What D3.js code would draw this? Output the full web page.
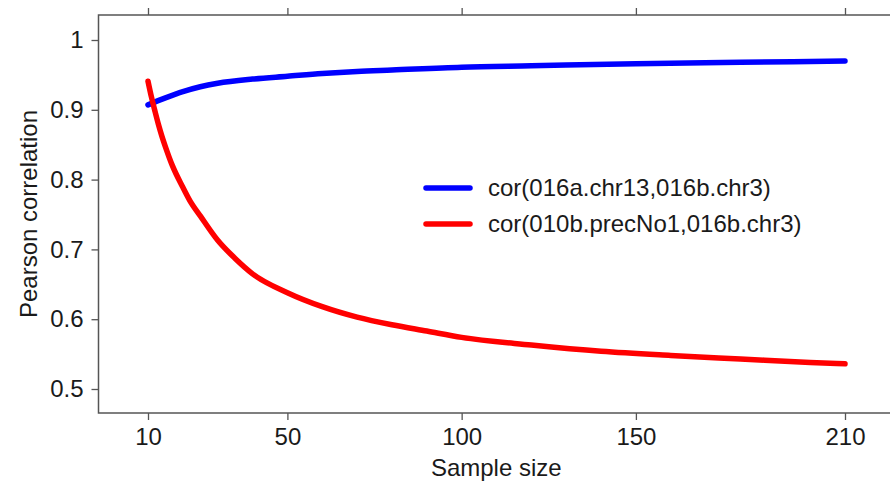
<!DOCTYPE html>
<html>
<head>
<meta charset="utf-8">
<script src="https://cdn.jsdelivr.net/npm/d3@7"></script>
<style>
  html, body { margin: 0; padding: 0; background: #fff; }
  svg { display: block; }
  text { font-family: "Liberation Sans", Arial, sans-serif; fill: #1a1a1a; }
</style>
</head>
<body>
<svg id="chart" width="890" height="482"></svg>
<script>
// ---- data ----
const redSizes  = [10, 11, 12, 13, 14, 15, 17, 20, 22, 25, 30, 35, 40, 50, 60, 70, 80, 90, 100, 120, 140, 160, 180, 200, 210];
const redValues = [0.941, 0.918, 0.898, 0.879, 0.862, 0.847, 0.820, 0.789, 0.770, 0.748, 0.713, 0.687, 0.665, 0.638, 0.618, 0.603, 0.592, 0.583, 0.574, 0.563, 0.554, 0.548, 0.543, 0.538, 0.536];
const blueSizes  = [10, 15, 20, 25, 30, 40, 50, 60, 70, 80, 100, 120, 150, 180, 210];
const blueValues = [0.907, 0.917, 0.926, 0.933, 0.938, 0.944, 0.948, 0.952, 0.955, 0.957, 0.961, 0.963, 0.966, 0.968, 0.970];
const xTicks = [10, 50, 100, 150, 210];
const yTicks = [0.5, 0.6, 0.7, 0.8, 0.9, 1];
const seriesNames = ["cor(016a.chr13,016b.chr3)", "cor(010b.precNo1,016b.chr3)"];
const seriesColors = ["#0000ff", "#ff0000"];

(function () {
// ---- layout ----
const svg = d3.select("#chart");
const pL = 98.5, pR = 894, pT = 15, pB = 413;
const fs = 24;

const x = d3.scaleLinear().domain([10, 210]).range([148, 845]);
const y = d3.scaleLinear().domain([0.5, 1]).range([389, 40]);

const axisColor = "#555";

// frame
svg.append("rect")
  .attr("x", pL).attr("y", pT)
  .attr("width", pR - pL).attr("height", pB - pT)
  .attr("fill", "none").attr("stroke", axisColor).attr("stroke-width", 1.5);

// bottom axis
const gx = svg.append("g").attr("transform", `translate(0,${pB})`)
  .call(d3.axisBottom(x).tickValues(xTicks).tickSize(7).tickPadding(8).tickFormat(d3.format("d")));
gx.select(".domain").remove();
gx.selectAll("line").attr("stroke", axisColor).attr("stroke-width", 1.3);
gx.selectAll("text").attr("font-size", fs).attr("fill", "#1a1a1a")
  .attr("font-family", "'Liberation Sans', Arial, sans-serif");

// top axis (ticks only)
const gt = svg.append("g").attr("transform", `translate(0,${pT})`)
  .call(d3.axisTop(x).tickValues(xTicks).tickSize(7).tickFormat(""));
gt.select(".domain").remove();
gt.selectAll("line").attr("stroke", axisColor).attr("stroke-width", 1.3);

// left axis
const gy = svg.append("g").attr("transform", `translate(${pL},0)`)
  .call(d3.axisLeft(y).tickValues(yTicks).tickSize(7).tickPadding(8).tickFormat(d => d === 1 ? "1" : d3.format(".1f")(d)));
gy.select(".domain").remove();
gy.selectAll("line").attr("stroke", axisColor).attr("stroke-width", 1.3);
gy.selectAll("text").attr("font-size", fs).attr("fill", "#1a1a1a")
  .attr("font-family", "'Liberation Sans', Arial, sans-serif");

// axis titles
svg.append("text")
  .attr("x", (pL + pR) / 2).attr("y", 476)
  .attr("text-anchor", "middle").attr("font-size", fs)
  .text("Sample size");
svg.append("text")
  .attr("transform", `translate(37,${(pT + pB) / 2}) rotate(-90)`)
  .attr("text-anchor", "middle").attr("font-size", fs)
  .text("Pearson correlation");

// lines
const line = d3.line().x(d => x(d[0])).y(d => y(d[1])).curve(d3.curveMonotoneX);
const series = [
  d3.zip(blueSizes, blueValues),
  d3.zip(redSizes, redValues)
];
series.forEach((s, i) => {
  svg.append("path").datum(s)
    .attr("d", line)
    .attr("fill", "none")
    .attr("stroke", seriesColors[i])
    .attr("stroke-width", 5.5)
    .attr("stroke-linecap", "round")
    .attr("stroke-linejoin", "round");
});

// legend
const legY = [188, 224];
seriesNames.forEach((name, i) => {
  svg.append("line")
    .attr("x1", 426).attr("x2", 470)
    .attr("y1", legY[i]).attr("y2", legY[i])
    .attr("stroke", seriesColors[i]).attr("stroke-width", 5.5)
    .attr("stroke-linecap", "round");
  svg.append("text")
    .attr("x", 488).attr("y", legY[i]).attr("dy", "0.35em")
    .attr("font-size", fs)
    .text(name);
});
})();
</script>
</body>
</html>
